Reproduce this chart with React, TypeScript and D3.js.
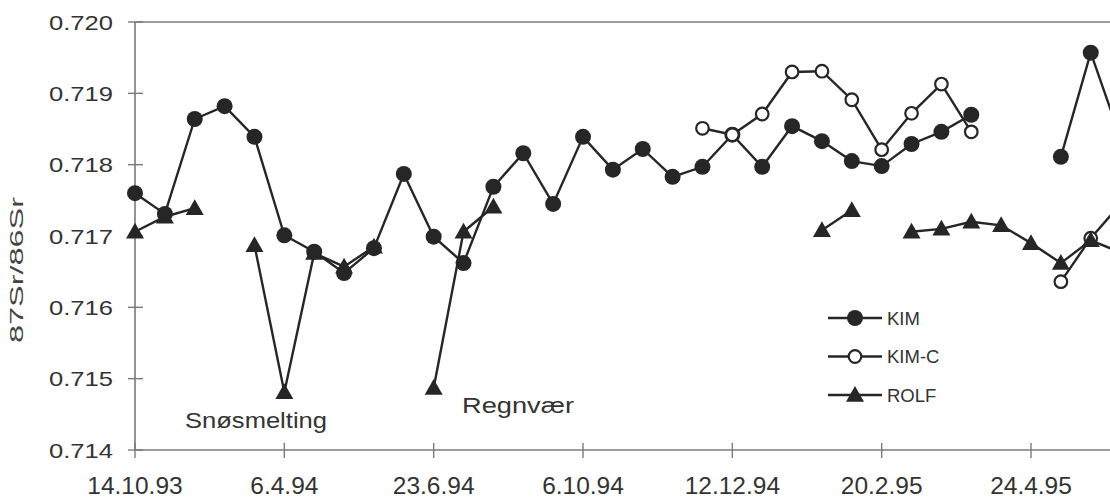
import React from "react";
import * as d3 from "d3";

// Tick labels every 5 samples along the category axis
const tickLabels = ["14.10.93", "6.4.94", "23.6.94", "6.10.94", "12.12.94", "20.2.95", "24.4.95"];
const tickEvery = 5;
const yTicks = [0.714, 0.715, 0.716, 0.717, 0.718, 0.719, 0.72];

type V = number | null;
const kim: V[] = [
  0.7176, 0.71731, 0.71864, 0.71882, 0.71839, 0.71701, 0.71678, 0.71648, 0.71683, 0.71787,
  0.71699, 0.71662, 0.71769, 0.71816, 0.71745, 0.71839, 0.71793, 0.71822, 0.71783, 0.71797,
  0.71842, 0.71797, 0.71854, 0.71833, 0.71805, 0.71798, 0.71829, 0.71846, 0.7187, null,
  null, 0.71811, 0.71957, 0.71837,
];
const kimC: V[] = [
  null, null, null, null, null, null, null, null, null, null,
  null, null, null, null, null, null, null, null, null, 0.71851,
  0.71842, 0.71871, 0.7193, 0.71931, 0.71891, 0.71821, 0.71872, 0.71913, 0.71846, null,
  null, 0.71636, 0.71697, 0.71745,
];
const rolf: V[] = [
  0.71706, 0.71727, 0.71739, null, 0.71687, 0.71481, 0.71676, 0.71657, 0.71685, null,
  0.71487, 0.71706, 0.71741, null, null, null, null, null, null, null,
  null, null, null, 0.71708, 0.71736, null, 0.71706, 0.7171, 0.7172, 0.71715,
  0.7169, 0.71662, 0.71694, 0.71677,
];

const series = [
  { name: "KIM", values: kim, marker: "filled" },
  { name: "KIM-C", values: kimC, marker: "open" },
  { name: "ROLF", values: rolf, marker: "triangle" },
];

const W = 1110;
const H = 500;
const INK = "#262626";
const AXIS = "#7a7a7a";

function Marker({ kind, x, y }: { kind: string; x: number; y: number }) {
  if (kind === "filled") return <circle cx={x} cy={y} r={8} fill={INK} />;
  if (kind === "open") return <circle cx={x} cy={y} r={6.3} fill="#fff" stroke={INK} strokeWidth={2.2} />;
  const s = 9;
  return (
    <path
      d={`M${x},${y - s}L${x + s},${y + s * 0.75}L${x - s},${y + s * 0.75}Z`}
      fill={INK}
    />
  );
}

export default function App() {
  const n = kim.length;
  const x = d3.scaleLinear().domain([0, n - 1]).range([135, 135 + (n - 1) * 29.867]);
  const y = d3.scaleLinear().domain([0.714, 0.72]).range([450, 22]);
  const line = d3
    .line<V>()
    .defined((d) => d !== null)
    .x((_, i) => x(i))
    .y((d) => y(d as number));

  const xTickIdx = tickLabels.map((_, k) => k * tickEvery);
  const fmt = d3.format(".3f");

  return (
    <svg
      width={W}
      height={H}
      style={{ position: "absolute", left: 0, top: 0, background: "#fff" }}
      fontFamily="'Liberation Sans', Arial, sans-serif"
    >
      {/* plot frame */}
      <line x1={x(0)} x2={W + 20} y1={y(0.72)} y2={y(0.72)} stroke={AXIS} strokeWidth={1.6} />
      <line x1={x(0)} x2={x(0)} y1={y(0.72)} y2={y(0.714)} stroke={AXIS} strokeWidth={1.6} />
      <line x1={x(0)} x2={W + 20} y1={y(0.714)} y2={y(0.714)} stroke={AXIS} strokeWidth={1.6} />

      {/* y ticks */}
      {yTicks.map((t) => (
        <g key={t}>
          <line x1={x(0) - 7} x2={x(0) + 8} y1={y(t)} y2={y(t)} stroke={AXIS} strokeWidth={1.4} />
          <text
            x={113}
            y={y(t) + 7.5}
            textAnchor="end"
            fontSize={21}
            fill="#333"
            textLength={64}
            lengthAdjust="spacingAndGlyphs"
          >
            {fmt(t)}
          </text>
        </g>
      ))}

      {/* x ticks */}
      {xTickIdx.map((i, k) => (
        <g key={i}>
          <line x1={x(i)} x2={x(i)} y1={y(0.714) - 7} y2={y(0.714) + 8} stroke={AXIS} strokeWidth={1.4} />
          <text x={x(i)} y={494} textAnchor="middle" fontSize={24.5} fill="#333">
            {tickLabels[k]}
          </text>
        </g>
      ))}

      {/* y title */}
      <text
        transform={`translate(23,270) rotate(-90)`}
        textAnchor="middle"
        fontSize={18.5}
        fill="#444"
        textLength={146}
        lengthAdjust="spacingAndGlyphs"
      >
        87Sr/86Sr
      </text>

      {/* series */}
      {series.map((s) => (
        <g key={s.name}>
          <path d={line(s.values) || ""} fill="none" stroke={INK} strokeWidth={2.4} />
          {s.values.map((v, i) =>
            v === null ? null : <Marker key={i} kind={s.marker} x={x(i)} y={y(v)} />
          )}
        </g>
      ))}

      {/* annotations */}
      <text x={185} y={428} fontSize={22} fill="#333" textLength={142} lengthAdjust="spacingAndGlyphs">
        Snøsmelting
      </text>
      <text x={462} y={413} fontSize={22} fill="#333" textLength={112} lengthAdjust="spacingAndGlyphs">
        Regnvær
      </text>

      {/* legend */}
      {series.map((s, k) => {
        const ly = 318 + k * 38.5;
        return (
          <g key={s.name}>
            <line x1={828} x2={882} y1={ly} y2={ly} stroke={INK} strokeWidth={2.4} />
            <Marker kind={s.marker} x={855} y={ly} />
            <text x={887} y={ly + 6.5} fontSize={18.5} fill="#333">
              {s.name}
            </text>
          </g>
        );
      })}
    </svg>
  );
}
